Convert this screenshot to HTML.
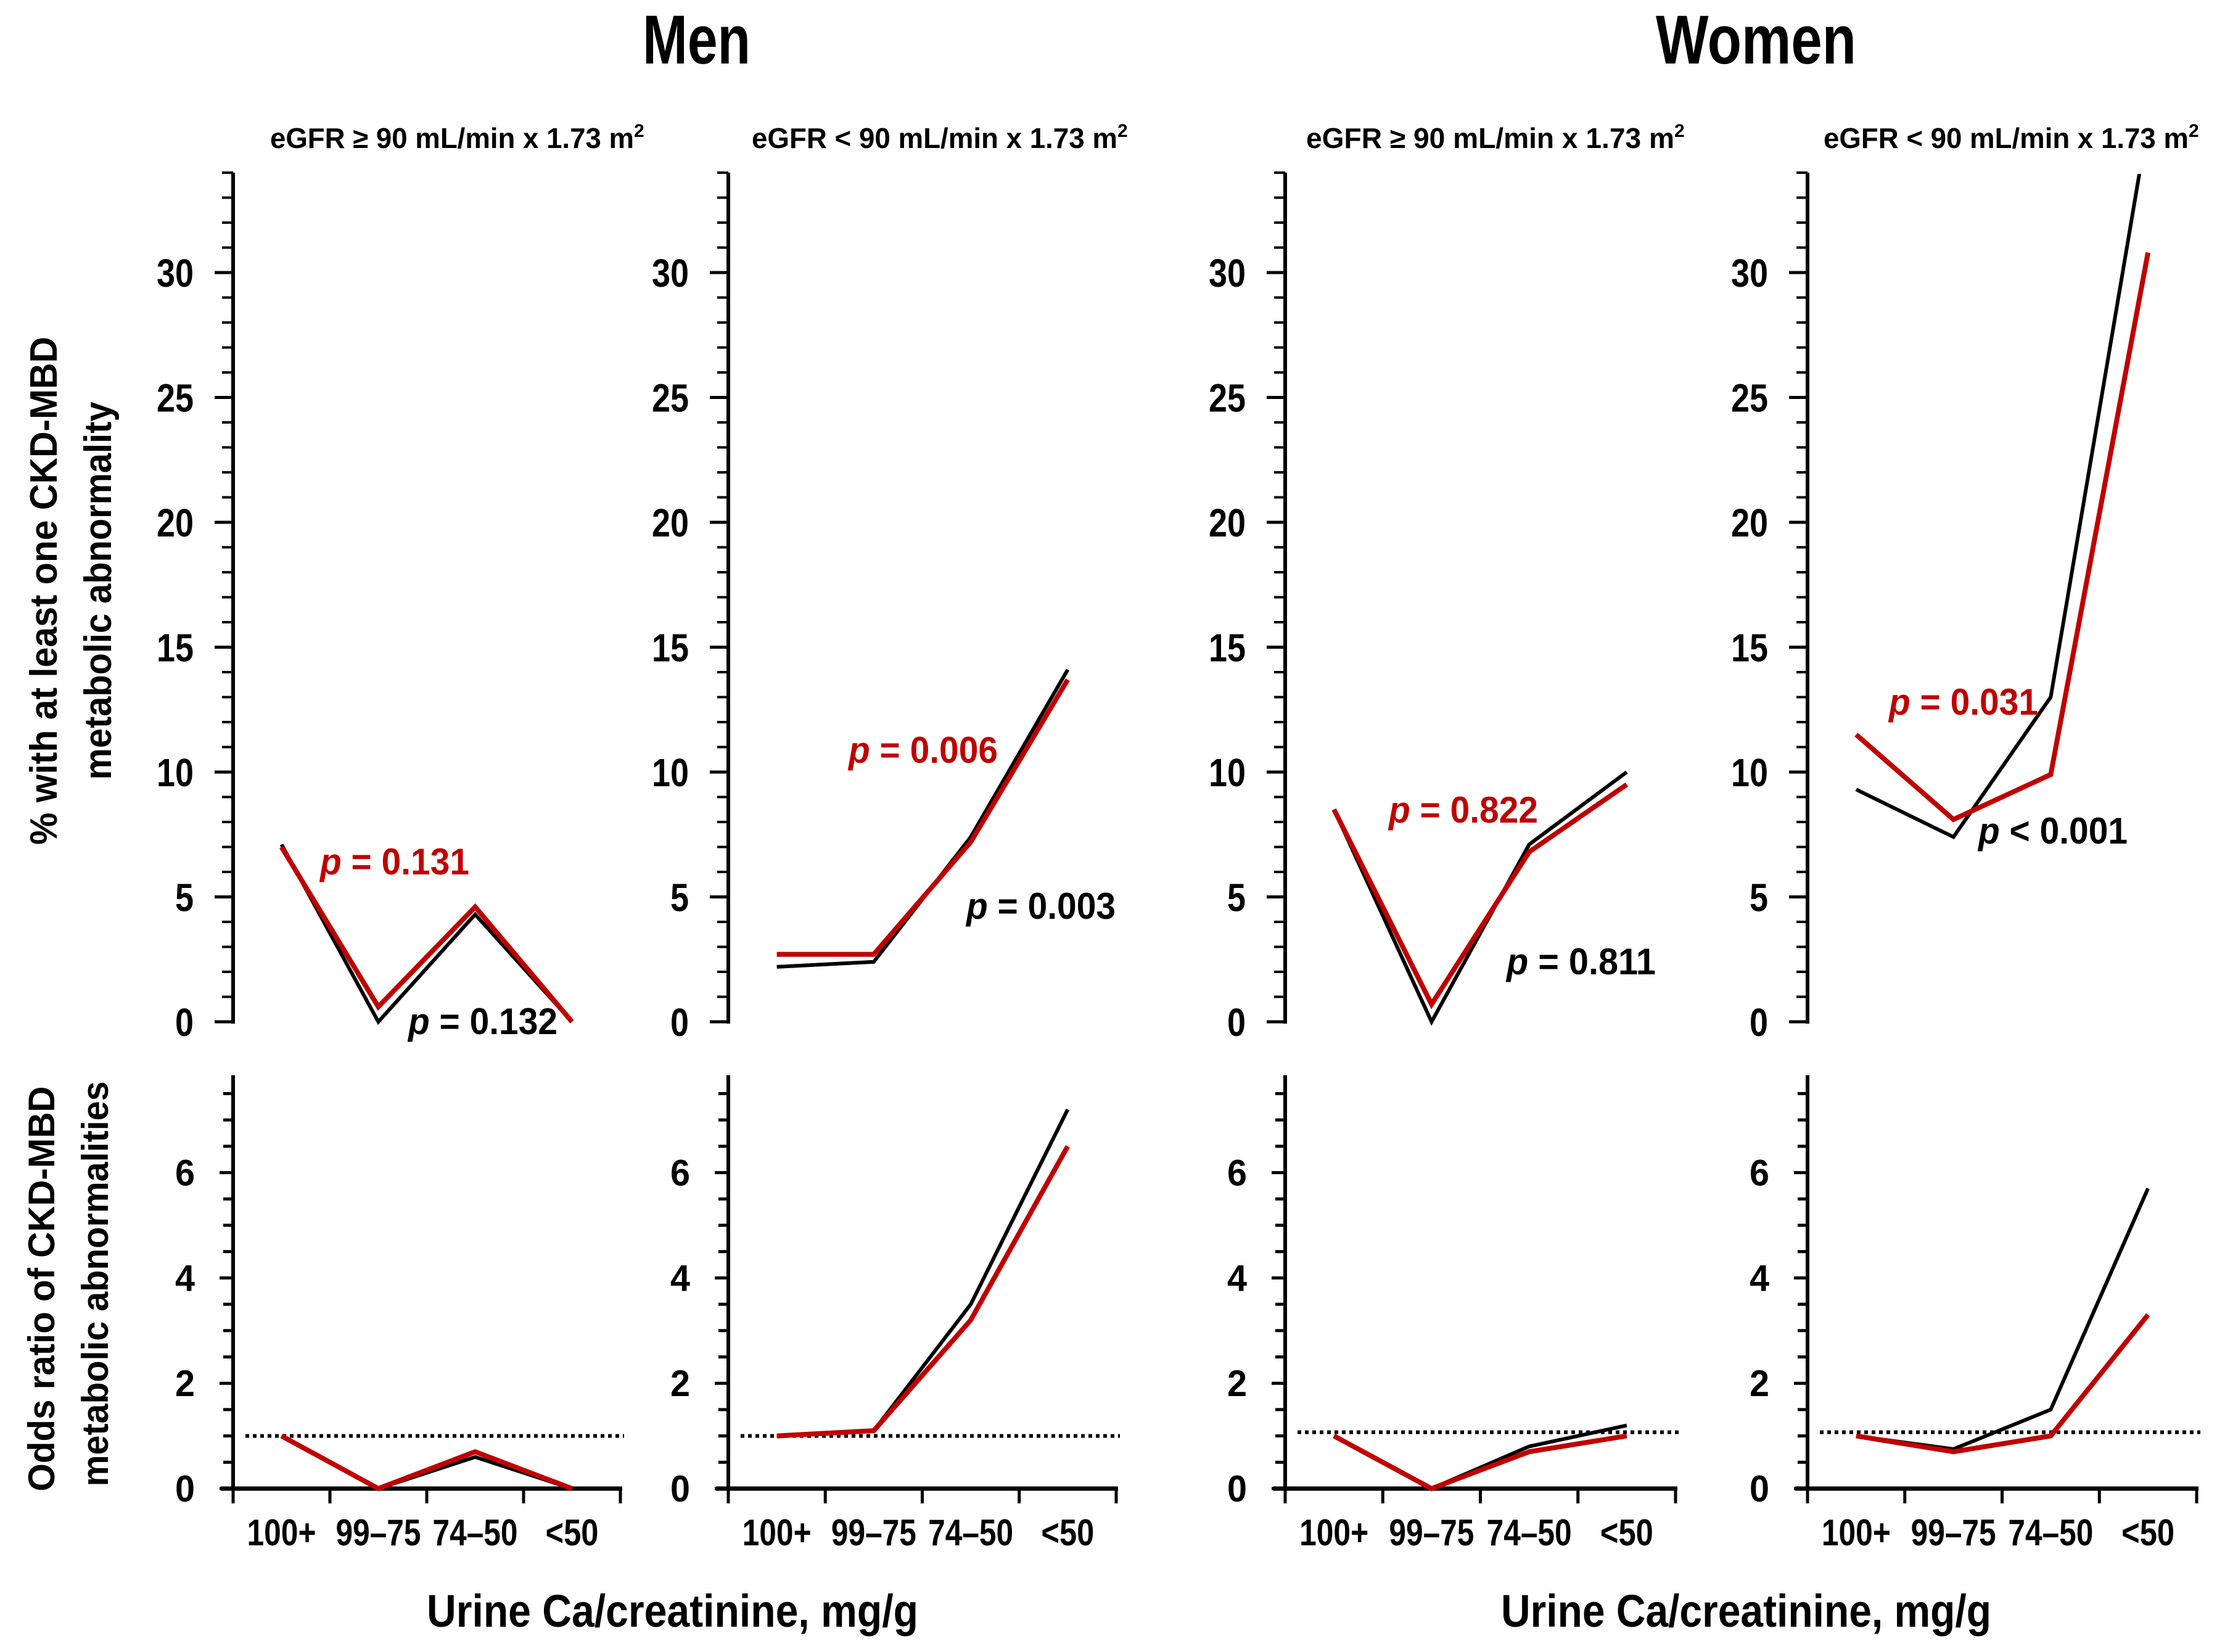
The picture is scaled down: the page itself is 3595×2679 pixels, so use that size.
<!DOCTYPE html>
<html><head><meta charset="utf-8"><style>
html,body{margin:0;padding:0;background:#fff}
svg{display:block}
text{font-family:"Liberation Sans Narrow","Liberation Sans",sans-serif;font-weight:bold}
</style></head><body>
<svg id="chart" width="3595" height="2679" viewBox="0 0 3595 2679" xmlns="http://www.w3.org/2000/svg">
<defs><clipPath id="topclip"><rect x="0" y="282" width="3595" height="1500"/></clipPath></defs>
<g id="static" fill="#000">
<text x="1042" y="103" font-size="112" textLength="175" lengthAdjust="spacingAndGlyphs">Men</text>
<text x="2685" y="103" font-size="112" textLength="325" lengthAdjust="spacingAndGlyphs">Women</text>
<text transform="translate(92,958) rotate(-90)" text-anchor="middle" font-size="62" textLength="824" lengthAdjust="spacingAndGlyphs">% with at least one CKD-MBD</text>
<text transform="translate(180,958) rotate(-90)" text-anchor="middle" font-size="62" textLength="613" lengthAdjust="spacingAndGlyphs">metabolic abnormality</text>
<text transform="translate(88,2090) rotate(-90)" text-anchor="middle" font-size="60" textLength="657" lengthAdjust="spacingAndGlyphs">Odds ratio of CKD-MBD</text>
<text transform="translate(175,2082) rotate(-90)" text-anchor="middle" font-size="60" textLength="657" lengthAdjust="spacingAndGlyphs">metabolic abnormalities</text>
<text x="692" y="2638" font-size="74" textLength="797" lengthAdjust="spacingAndGlyphs">Urine Ca/creatinine, mg/g</text>
<text x="2434" y="2638" font-size="74" textLength="795" lengthAdjust="spacingAndGlyphs">Urine Ca/creatinine, mg/g</text>
</g>
<g id="plots"></g>
</svg>
<script>
const categories = ["100+", "99\u201375", "74\u201350", "<50"];
const panelTitles = ["eGFR \u2265 90 mL/min x 1.73 m", "eGFR < 90 mL/min x 1.73 m", "eGFR \u2265 90 mL/min x 1.73 m", "eGFR < 90 mL/min x 1.73 m"];
const topTicks = [0, 5, 10, 15, 20, 25, 30];
const bottomTicks = [0, 2, 4, 6];
const pctBlack = [[7.1, 0, 4.3, 0], [2.2, 2.4, 7.4, 14.1], [8.5, 0, 7.1, 10.0], [9.3, 7.4, 13.0, 36]];
const pctRed = [[7.0, 0.6, 4.6, 0], [2.7, 2.7, 7.2, 13.7], [8.5, 0.7, 6.8, 9.5], [11.5, 8.1, 9.9, 30.8]];
const orBlack = [[1, 0, 0.6, 0], [1, 1.1, 3.5, 7.2], [1, 0, 0.8, 1.2], [1, 0.75, 1.5, 5.7]];
const orRed = [[1, 0, 0.7, 0], [1, 1.1, 3.2, 6.5], [1, 0, 0.7, 1.0], [1, 0.7, 1.0, 3.3]];
const refLine = [1.0, 1.0, 1.07, 1.07];
const pRedLabels = ["= 0.131", "= 0.006", "= 0.822", "= 0.031"];
const pBlackLabels = ["= 0.132", "= 0.003", "= 0.811", "< 0.001"];

const NS = "http://www.w3.org/2000/svg";
const plots = document.getElementById('plots');
const panels = [{L:378,R:1006},{L:1181,R:1810},{L:2084,R:2717},{L:2931,R:3562}];
const subX = [[438,1042],[1219,1826],[2118,2729],[2957,3563]];
const redPos = [[519,1418],[1376,1237],[2252,1334],[3063,1159]];
const blackPos = [[662,1677],[1567,1490],[2443,1580],[3208,1368]];
const TOP0 = 1657, TOPU = 40.5, TOPMAX = 34;
const BOT0 = 2414, BOTU = 85.4, BOTMAX = 7.85;
function el(tag, attrs, parent){ const e=document.createElementNS(NS,tag); for(const k in attrs) e.setAttribute(k,attrs[k]); (parent||plots).appendChild(e); return e; }
function xScale(p,i){ const P=panels[p]; return P.L + (i+0.5)*(P.R-P.L)/4; }
function yTop(v){ return TOP0 - v*TOPU; }
function yBot(v){ return BOT0 - v*BOTU; }

panels.forEach((P,p)=>{
  const g = el('g',{fill:'#000'});
  
  
  const st = el('text',{x:subX[p][0], y:240, 'font-size':46, textLength:subX[p][1]-subX[p][0]-14, lengthAdjust:'spacingAndGlyphs'}, g);
  
  
  st.textContent = panelTitles[p];
  const sup = el('text',{x:subX[p][1]-14, y:222, 'font-size':30}, g);
  
  
  sup.textContent = '2';
  const ta = el('line',{x1:P.L, x2:P.L, y1:yTop(TOPMAX), y2:yTop(0)+3, stroke:'#000','stroke-width':6}, g);
  
  
  for(let v=0; v<=TOPMAX; v++){
    const major = v%5===0;
    const t = el('line',{x1:P.L-(major?30:18), x2:P.L, y1:yTop(v), y2:yTop(v), stroke:'#000','stroke-width':major?5:4}, g);
    
    
  }
  topTicks.forEach(v=>{
    const s=String(v);
    const t = el('text',{x:P.L-64, y:yTop(v)+23, 'font-size':64, 'text-anchor':'end', textLength:s.length*30, lengthAdjust:'spacingAndGlyphs'}, g);
    
    
    t.textContent = s;
  });
  const cg = el('g',{'clip-path':'url(#topclip)'}, g);
  const mk = (vals, ys, color, w, name, parent) => {
    const pts = vals.map((v,i)=>xScale(p,i)+','+ys(v)).join(' ');
    const l = el('polyline',{points:pts, fill:'none', stroke:color, 'stroke-width':w, 'stroke-linejoin':'miter'}, parent);
    
    
  };
  mk(pctBlack[p], yTop, '#000', 6, 'pct-line-black', cg);
  mk(pctRed[p], yTop, '#c00000', 8, 'pct-line-red', cg);
  const pr = el('text',{x:redPos[p][0], y:redPos[p][1], 'font-size':60, fill:'#c00000', textLength:242, lengthAdjust:'spacingAndGlyphs'}, g);
  
  
  const pr1 = el('tspan',{'font-style':'italic'}, pr); pr1.textContent='p';
  const pr2 = el('tspan',{}, pr); pr2.textContent=' '+pRedLabels[p];
  const pb = el('text',{x:blackPos[p][0], y:blackPos[p][1], 'font-size':60, fill:'#000', textLength:242, lengthAdjust:'spacingAndGlyphs'}, g);
  
  
  const pb1 = el('tspan',{'font-style':'italic'}, pb); pb1.textContent='p';
  const pb2 = el('tspan',{}, pb); pb2.textContent=' '+pBlackLabels[p];
  const ba = el('line',{x1:P.L, x2:P.L, y1:yBot(BOTMAX), y2:yBot(0)+3, stroke:'#000','stroke-width':6}, g);
  
  
  const bx = el('line',{x1:P.L-20, x2:P.R+3, y1:yBot(0), y2:yBot(0), stroke:'#000','stroke-width':7}, g);
  
  
  for(let k=0;k<=4;k++){
    const x = P.L + k*(P.R-P.L)/4;
    const t = el('line',{x1:x,x2:x,y1:yBot(0),y2:yBot(0)+24,stroke:'#000','stroke-width':5}, g);
    
    
  }
  for(let v=0; v<=BOTMAX; v+=0.5){
    const t = el('line',{x1:P.L-(v%2===0?22:16), x2:P.L, y1:yBot(v), y2:yBot(v), stroke:'#000','stroke-width':5}, g);
    
    
  }
  bottomTicks.forEach(v=>{
    const t = el('text',{x:P.L-62, y:yBot(v)+21, 'font-size':60, 'text-anchor':'end', textLength:32, lengthAdjust:'spacingAndGlyphs'}, g);
    
    
    t.textContent = String(v);
  });
  categories.forEach((c,i)=>{
    const w = c.length===3 ? 86 : (c.length===4 ? 112 : 138);
    const t = el('text',{x:xScale(p,i), y:2506, 'font-size':60, 'text-anchor':'middle', textLength:w, lengthAdjust:'spacingAndGlyphs'}, g);
    
    
    t.textContent = c;
  });
  const rl = el('line',{x1:P.L+20, x2:P.R+6, y1:yBot(refLine[p]), y2:yBot(refLine[p]), stroke:'#000','stroke-width':6,'stroke-dasharray':'6 6'}, g);
  
  
  mk(orBlack[p], yBot, '#000', 6, 'or-line-black', g);
  mk(orRed[p], yBot, '#c00000', 8, 'or-line-red', g);
});
</script>
</body></html>
